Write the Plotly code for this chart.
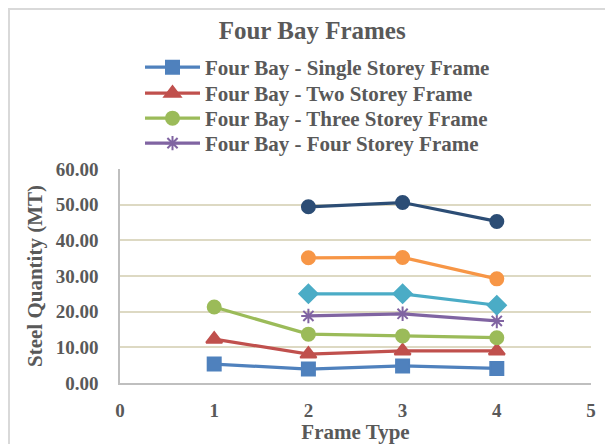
import plotly.graph_objects as go

# Frame type positions on the x axis
frame_types = [1, 2, 3, 4]

# Steel quantity (MT) per series
single_storey = [5.3, 3.9, 4.8, 4.1]
two_storey = [12.3, 8.1, 9.0, 9.0]
three_storey = [21.3, 13.7, 13.2, 12.7]
four_storey = [None, 18.8, 19.4, 17.4]
five_storey = [None, 25.0, 25.0, 21.8]
six_storey = [None, 35.1, 35.2, 29.2]
seven_storey = [None, 49.4, 50.6, 45.3]

y_ticks = [0, 10, 20, 30, 40, 50, 60]
y_tick_text = [f"<b>{v:.2f}</b>" for v in y_ticks]
x_ticks = [0, 1, 2, 3, 4, 5]
x_tick_text = [f"<b>{v}</b>" for v in x_ticks]

FONT = "Liberation Serif"
TEXT = "#595959"

# name, values, colour, marker, marker size, legend id (None = hidden)
series = [
    ("Four Bay - Single Storey Frame", single_storey, "#4F81BD", "square", 13, "legend"),
    ("Four Bay - Two Storey Frame", two_storey, "#C0504D", "triangle-up", 14, "legend2"),
    ("Four Bay - Three Storey Frame", three_storey, "#9BBB59", "circle", 13, "legend3"),
    ("Four Bay - Four Storey Frame", four_storey, "#8064A2", "asterisk-open", 12, "legend4"),
    ("Four Bay - Five Storey Frame", five_storey, "#4BACC6", "diamond", 14, None),
    ("Four Bay - Six Storey Frame", six_storey, "#F79646", "circle", 13, None),
    ("Four Bay - Seven Storey Frame", seven_storey, "#2C4D75", "circle", 13, None),
]

fig = go.Figure()
for name, vals, color, symbol, size, leg in series:
    fig.add_trace(go.Scatter(
        x=frame_types, y=vals, name=f"<b>{name}</b>", mode="lines+markers",
        line=dict(color=color, width=3.2),
        marker=dict(symbol=symbol, size=size, color=color,
                    line=dict(color=color, width=2)),
        showlegend=leg is not None,
        legend=leg if leg else "legend",
    ))

L, R, T, B = 120, 14, 169, 61
W, H = 605, 444
pw = W - L - R
ph = H - T - B

def px_x(p):
    return (p - L) / pw

def px_y(p):
    return (H - B - p) / ph

def legend_row(y_px):
    return dict(x=px_x(140), y=px_y(y_px), xanchor="left", yanchor="middle",
                font=dict(size=21, family=FONT, color=TEXT),
                bgcolor="rgba(0,0,0,0)", itemwidth=55)

fig.update_layout(
    width=W, height=H,
    margin=dict(l=L, r=R, t=T, b=B, autoexpand=False),
    paper_bgcolor="white", plot_bgcolor="white",
    font=dict(family=FONT, color=TEXT, size=19),
    title=dict(text="<b>Four Bay Frames</b>", x=0.516, xanchor="center",
               y=1 - 30 / H, yanchor="middle",
               font=dict(size=25, family=FONT, color=TEXT)),
    legend=legend_row(67.5),
    legend2=legend_row(93.5),
    legend3=legend_row(118.5),
    legend4=legend_row(143.5),
    xaxis=dict(range=[0, 5], tickvals=x_ticks, ticktext=x_tick_text, showgrid=False,
               zeroline=False, showline=True, linecolor="#BFBFBF", linewidth=1.5,
               ticks="", ticklabelstandoff=9, automargin=False,
               tickfont=dict(size=19, family=FONT, color=TEXT),
               title=dict(text="<b>Frame Type</b>", standoff=2,
                          font=dict(size=21, family=FONT, color=TEXT))),
    yaxis=dict(range=[0, 60], tickvals=y_ticks, ticktext=y_tick_text,
               showgrid=True, gridcolor="#DDD9C3", gridwidth=1.5,
               zeroline=False, showline=True, linecolor="#BFBFBF", linewidth=1.5,
               ticks="", ticklabelstandoff=16, automargin=False,
               tickfont=dict(size=19, family=FONT, color=TEXT),
               title=dict(text="<b>Steel Quantity (MT)</b>", standoff=7,
                          font=dict(size=21, family=FONT, color=TEXT))),
    shapes=[dict(type="rect", xref="paper", yref="paper",
                 x0=px_x(9), y0=px_y(460), x1=px_x(620), y1=px_y(9),
                 line=dict(color="#D9D9D9", width=2), layer="below")],
)

fig.write_html("out.html")
